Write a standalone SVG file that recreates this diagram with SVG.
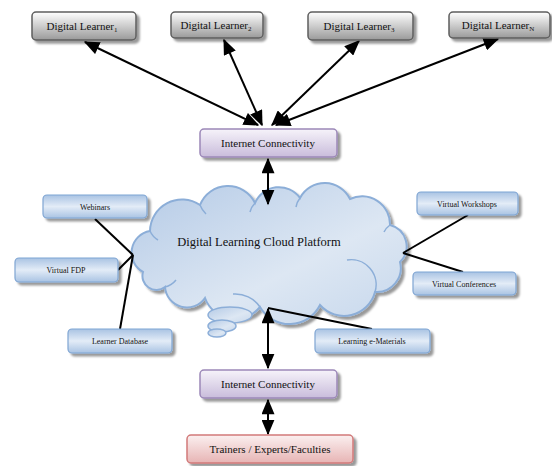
<svg xmlns="http://www.w3.org/2000/svg" width="552" height="466" viewBox="0 0 552 466">
<defs>
<linearGradient id="gGray" x1="0" y1="0" x2="0" y2="1"><stop offset="0" stop-color="#ffffff"/><stop offset="1" stop-color="#9a9a9a"/></linearGradient>
<linearGradient id="gPurp" x1="0" y1="0" x2="0" y2="1"><stop offset="0" stop-color="#f6f3fa"/><stop offset="1" stop-color="#c9bcdb"/></linearGradient>
<linearGradient id="gBlue" x1="0" y1="0" x2="0" y2="1"><stop offset="0" stop-color="#a9c3e3"/><stop offset="0.5" stop-color="#e3ecf7"/><stop offset="1" stop-color="#a9c3e3"/></linearGradient>
<linearGradient id="gPink" x1="0" y1="0" x2="0" y2="1"><stop offset="0" stop-color="#fbf0f0"/><stop offset="1" stop-color="#e7b4b4"/></linearGradient>
<linearGradient id="gCloud" x1="0" y1="0" x2="1" y2="1"><stop offset="0" stop-color="#b4cae6"/><stop offset="0.6" stop-color="#dde7f3"/><stop offset="1" stop-color="#c6d7ec"/></linearGradient>
<filter id="sh" x="-20%" y="-20%" width="140%" height="160%"><feDropShadow dx="3" dy="3" stdDeviation="1.2" flood-color="#000" flood-opacity="0.4"/></filter>
<marker id="ah" viewBox="0 0 12 10" refX="11" refY="5" markerWidth="8" markerHeight="6.5" orient="auto-start-reverse"><path d="M0,0 L12,5 L0,10 z" fill="#000"/></marker>
<style>
.t{font-family:"Liberation Serif","DejaVu Serif","Times New Roman",serif;fill:#111;text-anchor:middle}
.gray{fill:url(#gGray);stroke:#5e5e5e;stroke-width:1.5;filter:url(#sh)}
.purp{fill:url(#gPurp);stroke:#9c88b8;stroke-width:1.5;filter:url(#sh)}
.blue{fill:url(#gBlue);stroke:#7fa5d3;stroke-width:1.2;filter:url(#sh)}
.pink{fill:url(#gPink);stroke:#d27a7a;stroke-width:1.5;filter:url(#sh)}
.ln{stroke:#000;stroke-width:2;fill:none}
.arr{stroke:#000;stroke-width:2;fill:none;marker-start:url(#ah);marker-end:url(#ah)}
</style>
</defs>
<rect width="552" height="466" fill="#fff"/>

<g id="cloud">
<path d="M143,272 A22,22 0 0 1 150,231 A32,32 0 0 1 200,205 A30,30 0 0 1 255,203 A26,26 0 0 1 300,198 A28,28 0 0 1 350,199 A28,28 0 0 1 390,225 A22,22 0 0 1 400,262 A24,24 0 0 1 375,292 A32,32 0 0 1 320,305 A34,34 0 0 1 260,307 A32,32 0 0 1 205,298 A22,22 0 0 1 165,287 A14,14 0 0 1 143,272 Z" fill="url(#gCloud)" stroke="#8caed8" stroke-width="2" filter="url(#sh)"/>
<path d="M150,231 A20,20 0 0 0 158,240 M200,205 A25,25 0 0 0 206,214 M255,203 A20,20 0 0 0 250,212 M300,198 A20,20 0 0 0 296,207 M390,225 A20,20 0 0 0 384,232 M375,292 A25,25 0 0 0 347,260 M260,307 A30,30 0 0 0 233,294 M165,287 A20,20 0 0 0 176,280" fill="none" stroke="#8caed8" stroke-width="1.5"/>
<ellipse cx="230" cy="315" rx="22" ry="8" fill="url(#gCloud)" stroke="#8caed8" stroke-width="1.5"/>
<ellipse cx="222" cy="326" rx="14" ry="6" fill="url(#gCloud)" stroke="#8caed8" stroke-width="1.5"/>
<ellipse cx="217" cy="333" rx="9" ry="4" fill="url(#gCloud)" stroke="#8caed8" stroke-width="1.5"/>
<text class="t" x="259" y="246" font-size="12.5">Digital Learning Cloud Platform</text>
</g>

<g id="connectors">
<line class="arr" x1="258" y1="125" x2="85" y2="42"/>
<line class="arr" x1="262" y1="125" x2="224" y2="40"/>
<line class="arr" x1="272" y1="125" x2="359" y2="41"/>
<line class="arr" x1="276" y1="125" x2="498" y2="39"/>
<line class="arr" x1="268" y1="159" x2="268" y2="204"/>
<line class="arr" x1="268" y1="309" x2="268" y2="368"/>
<line class="arr" x1="268" y1="400" x2="268" y2="434"/>
<line class="ln" x1="133" y1="255" x2="95" y2="219"/>
<line class="ln" x1="133" y1="255" x2="118" y2="270"/>
<line class="ln" x1="133" y1="255" x2="120" y2="329"/>
<line class="ln" x1="403" y1="253" x2="468" y2="215"/>
<line class="ln" x1="403" y1="253" x2="463" y2="272"/>
<line class="ln" x1="268" y1="308" x2="372" y2="329"/>
</g>

<g id="learner1"><rect class="gray" x="32" y="12" width="104" height="28" rx="4"/><text class="t" x="82" y="30" font-size="11">Digital Learner<tspan font-size="7" dy="2">1</tspan></text></g>
<g id="learner2"><rect class="gray" x="171" y="12" width="92" height="26" rx="4"/><text class="t" x="216" y="29" font-size="11">Digital Learner<tspan font-size="7" dy="2">2</tspan></text></g>
<g id="learner3"><rect class="gray" x="308" y="12" width="105" height="28" rx="4"/><text class="t" x="359" y="30" font-size="11">Digital Learner<tspan font-size="7" dy="2">3</tspan></text></g>
<g id="learnerN"><rect class="gray" x="449" y="12" width="101" height="26" rx="4"/><text class="t" x="498" y="29" font-size="11">Digital Learner<tspan font-size="7" dy="2">N</tspan></text></g>

<g id="internet1"><rect class="purp" x="200" y="129" width="137" height="28" rx="4"/><text class="t" x="268" y="147" font-size="11">Internet Connectivity</text></g>
<g id="internet2"><rect class="purp" x="200" y="370" width="137" height="28" rx="4"/><text class="t" x="268" y="388" font-size="11">Internet Connectivity</text></g>
<g id="trainers"><rect class="pink" x="187" y="435" width="166" height="28" rx="4"/><text class="t" x="270" y="453" font-size="11">Trainers / Experts/Faculties</text></g>

<g id="webinars"><rect class="blue" x="43" y="195" width="104" height="23" rx="4"/><text class="t" x="95" y="210" font-size="8">Webinars</text></g>
<g id="virtualfdp"><rect class="blue" x="15" y="258" width="103" height="24" rx="4"/><text class="t" x="66" y="273" font-size="8">Virtual FDP</text></g>
<g id="learnerdb"><rect class="blue" x="68" y="329" width="104" height="24" rx="4"/><text class="t" x="120" y="344" font-size="8">Learner Database</text></g>
<g id="workshops"><rect class="blue" x="417" y="192" width="101" height="23" rx="4"/><text class="t" x="467" y="207" font-size="8">Virtual Workshops</text></g>
<g id="conferences"><rect class="blue" x="413" y="272" width="103" height="23" rx="4"/><text class="t" x="464" y="287" font-size="8">Virtual Conferences</text></g>
<g id="ematerials"><rect class="blue" x="315" y="329" width="115" height="24" rx="4"/><text class="t" x="372" y="344" font-size="8">Learning e-Materials</text></g>
</svg>
